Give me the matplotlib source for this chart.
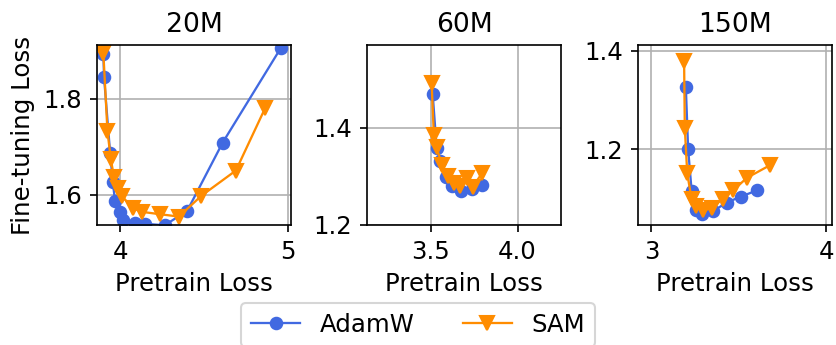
import matplotlib
matplotlib.use("Agg")
import matplotlib.pyplot as plt

titles = ["20M", "60M", "150M"]

# 20M
adamw_20_x = [3.901, 3.905, 3.941, 3.957, 3.970, 4.000, 4.020, 4.089, 4.148, 4.266, 4.400, 4.611, 4.957]
adamw_20_y = [1.894, 1.845, 1.688, 1.628, 1.588, 1.564, 1.548, 1.542, 1.540, 1.537, 1.567, 1.709, 1.906]
sam_20_x = [3.901, 3.925, 3.945, 3.964, 3.990, 4.010, 4.079, 4.128, 4.237, 4.351, 4.483, 4.690, 4.864]
sam_20_y = [1.895, 1.734, 1.675, 1.638, 1.614, 1.598, 1.572, 1.565, 1.560, 1.555, 1.598, 1.651, 1.781]

# 60M
adamw_60_x = [3.510, 3.533, 3.552, 3.587, 3.620, 3.672, 3.736, 3.794]
adamw_60_y = [1.470, 1.359, 1.331, 1.298, 1.280, 1.269, 1.274, 1.282]
sam_60_x = [3.504, 3.517, 3.533, 3.562, 3.597, 3.633, 3.668, 3.707, 3.741, 3.794]
sam_60_y = [1.492, 1.384, 1.360, 1.324, 1.300, 1.286, 1.280, 1.297, 1.278, 1.306]

# 150M
adamw_150_x = [3.197, 3.210, 3.230, 3.255, 3.291, 3.354, 3.431, 3.511, 3.607]
adamw_150_y = [1.326, 1.201, 1.116, 1.077, 1.068, 1.075, 1.092, 1.104, 1.117]
sam_150_x = [3.187, 3.191, 3.205, 3.230, 3.255, 3.297, 3.345, 3.408, 3.469, 3.546, 3.680]
sam_150_y = [1.380, 1.243, 1.151, 1.099, 1.085, 1.077, 1.080, 1.100, 1.117, 1.142, 1.168]

adamw = [(adamw_20_x, adamw_20_y), (adamw_60_x, adamw_60_y), (adamw_150_x, adamw_150_y)]
sam = [(sam_20_x, sam_20_y), (sam_60_x, sam_60_y), (sam_150_x, sam_150_y)]

xlims = [(3.863, 5.018), (3.131, 4.251), (2.923, 4.034)]
ylims = [(1.5375, 1.9125), (1.2, 1.57), (1.0465, 1.4116)]
xticks = [[4, 5], [3.5, 4.0], [3, 4]]
xticklabels = [["4", "5"], ["3.5", "4.0"], ["3", "4"]]
yticks = [[1.6, 1.8], [1.2, 1.4], [1.2, 1.4]]

plt.rcParams['font.size'] = 11.7

fig = plt.figure(figsize=(836 / 150, 345 / 150), dpi=150)
lefts = [97, 367, 638]
lines = []
for i in range(3):
    ax = fig.add_axes([lefts[i] / 836, 1 - 225 / 345, 194 / 836, 180 / 345])
    ax.grid(True)
    ax.set_axisbelow(True)
    l1, = ax.plot(adamw[i][0], adamw[i][1], color='royalblue', marker='o', markersize=5.5,
                  linewidth=1.1, label='AdamW')
    l2, = ax.plot(sam[i][0], sam[i][1], color='darkorange', marker='v', markersize=6.5,
                  linewidth=1.1, label='SAM')
    lines = [l1, l2]
    ax.set_xlim(*xlims[i])
    ax.set_ylim(*ylims[i])
    ax.set_xticks(xticks[i])
    ax.set_xticklabels(xticklabels[i])
    ax.set_yticks(yticks[i])
    ax.set_title(titles[i], fontsize=12.8)
    ax.set_xlabel('Pretrain Loss')
    if i == 0:
        ax.set_ylabel('Fine-tuning Loss')

fig.legend(lines, ['AdamW', 'SAM'], loc='upper center', bbox_to_anchor=(0.5, 1 - 291 / 345), ncol=2)

fig.savefig('out.png', dpi=150)
